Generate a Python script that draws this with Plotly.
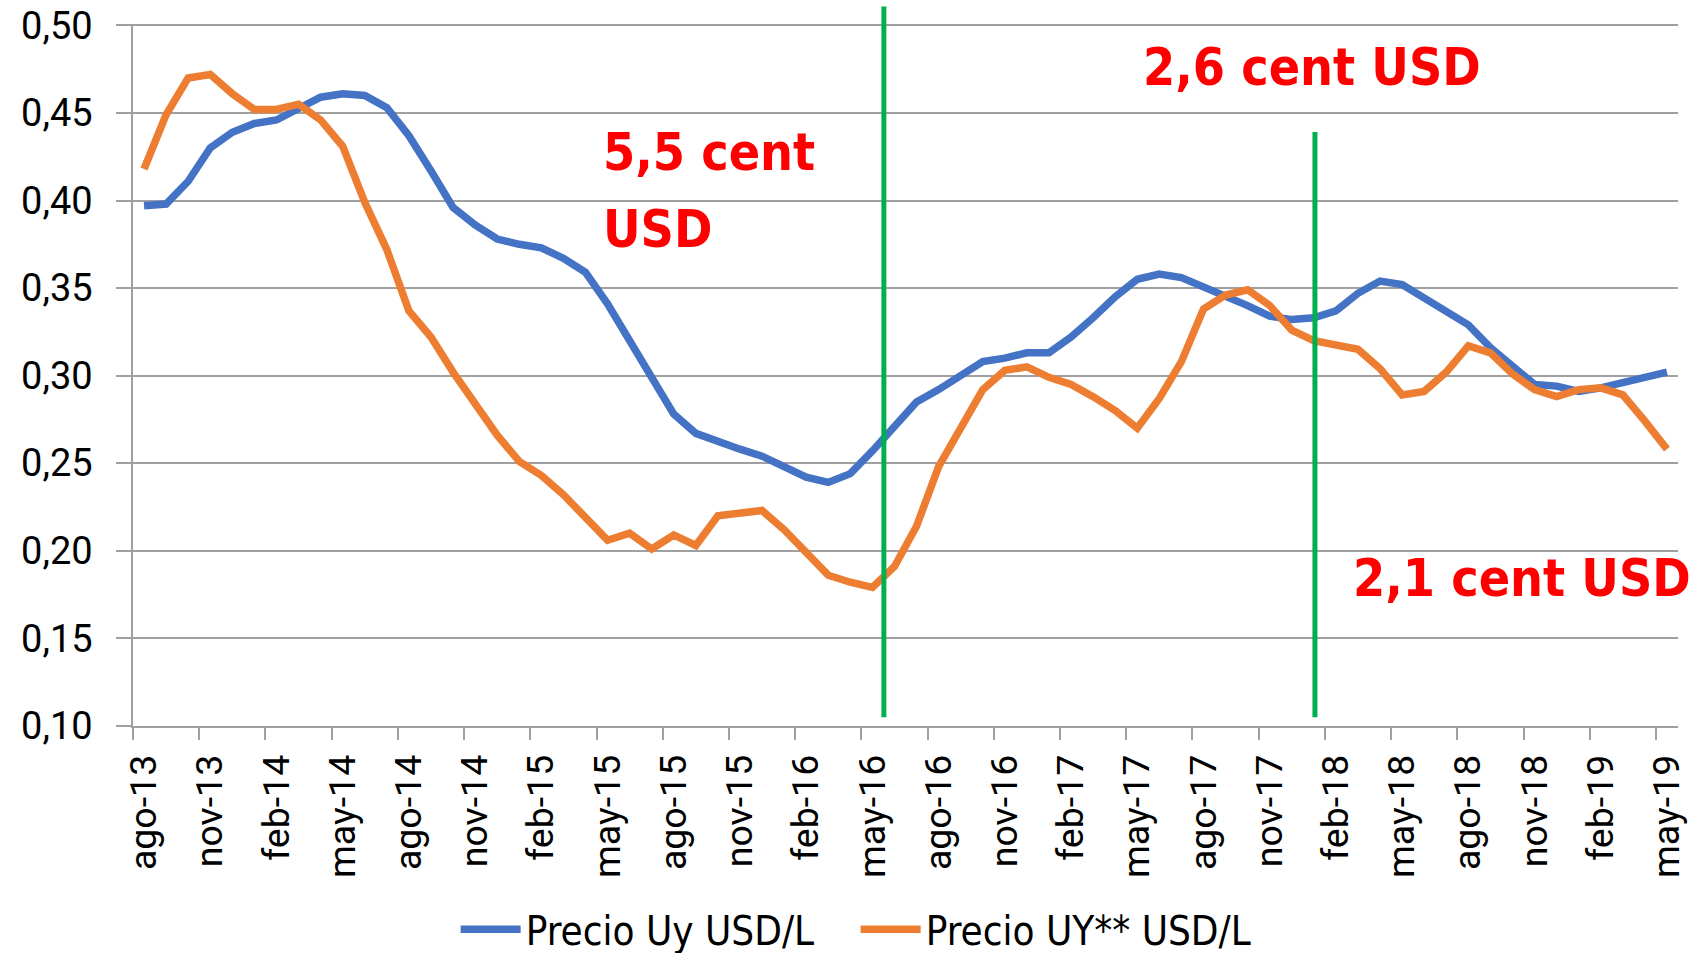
import plotly.graph_objects as go

months_es = ["ene", "feb", "mar", "abr", "may", "jun", "jul", "ago", "sep", "oct", "nov", "dic"]
categories = []
y, m = 2013, 7
for _ in range(70):
    categories.append(f"{months_es[m]}-{str(y)[2:]}")
    m += 1
    if m == 12:
        m = 0
        y += 1

precio_uy = [0.397, 0.398, 0.411, 0.430, 0.439, 0.444, 0.446, 0.453, 0.459, 0.461,
             0.460, 0.453, 0.437, 0.417, 0.396, 0.386, 0.378, 0.375, 0.373, 0.367,
             0.359, 0.341, 0.320, 0.299, 0.278, 0.267, 0.262, 0.258, 0.254, 0.248,
             0.242, 0.239, 0.244, 0.257, 0.271, 0.285, 0.292, 0.300, 0.308, 0.310,
             0.313, 0.313, 0.322, 0.333, 0.345, 0.355, 0.358, 0.356, 0.351, 0.345,
             0.340, 0.334, 0.332, 0.333, 0.337, 0.347, 0.354, 0.352, 0.344, 0.336,
             0.329, 0.316, 0.305, 0.295, 0.294, 0.291, 0.293, 0.296, 0.300, 0.302]

precio_uy2 = [0.418, 0.449, 0.470, 0.472, 0.461, 0.452, 0.452, 0.455, 0.446, 0.431,
              0.399, 0.372, 0.337, 0.322, 0.302, 0.284, 0.266, 0.251, 0.243, 0.232,
              0.219, 0.206, 0.210, 0.201, 0.209, 0.203, 0.220, 0.222, 0.223, 0.212,
              0.199, 0.186, 0.182, 0.179, 0.191, 0.214, 0.248, 0.271, 0.292, 0.303,
              0.305, 0.299, 0.295, 0.288, 0.280, 0.270, 0.287, 0.308, 0.338, 0.346,
              0.349, 0.340, 0.326, 0.320, 0.318, 0.315, 0.304, 0.289, 0.291, 0.302,
              0.317, 0.313, 0.301, 0.292, 0.288, 0.292, 0.293, 0.289, 0.274, 0.258]

series_names = ["Precio Uy USD/L", "Precio UY** USD/L"]

y_ticks = [0.10, 0.15, 0.20, 0.25, 0.30, 0.35, 0.40, 0.45, 0.50]

# vertical markers (x in category index units, y extents in paper units)
vline_x = [33.52, 53.05]
vline_y0 = [0.0125, 0.0125]
vline_y1 = [1.025, 0.846]

# annotation texts and anchors (x in category units, y in data units)
note_text = ["5,5 cent", "USD", "2,6 cent USD", "2,1 cent USD"]
note_x = [20.69, 20.69, 45.16, 54.70]
note_y = [0.4275, 0.3836, 0.4765, 0.1842]

idx = list(range(len(categories)))
tick_pos = [i - 0.5 for i in range(0, 70, 3)]
tick_txt = [categories[i] for i in range(0, 70, 3)]

BLUE = "#4472C4"
ORANGE = "#ED7D31"
GREEN = "#00B050"
GRID = "#A0A0A0"
NARROW = "Liberation Sans Narrow, DejaVu Sans Condensed, Arial Narrow, sans-serif"
YTICKFONT = dict(family="Roboto, Noto Sans, sans-serif", size=38, color="#000000")
XTICKFONT = dict(family="Roboto, Noto Sans, sans-serif", size=37.5, color="#000000")

fig = go.Figure()
fig.add_trace(go.Scatter(x=idx, y=precio_uy, mode="lines", name=series_names[0],
                         line=dict(color=BLUE, width=7.5)))
fig.add_trace(go.Scatter(x=idx, y=precio_uy2, mode="lines", name=series_names[1],
                         line=dict(color=ORANGE, width=7.5)))

for xv, y0, y1 in zip(vline_x, vline_y0, vline_y1):
    fig.add_shape(type="line", xref="x", yref="paper", x0=xv, x1=xv, y0=y0, y1=y1,
                  line=dict(color=GREEN, width=5), layer="above")

for t, xv, yv in zip(note_text, note_x, note_y):
    fig.add_annotation(x=xv, y=yv, xref="x", yref="y", text=t, showarrow=False,
                       xanchor="left", yanchor="middle", align="left",
                       font=dict(family=NARROW, size=51.5, color="#FF0000", weight="bold"))

fig.update_layout(
    width=1691, height=953,
    margin=dict(l=133, r=13, t=24, b=227),
    paper_bgcolor="white", plot_bgcolor="white",
    separators=",.",
    showlegend=True,
    legend=dict(orientation="h", xref="container", yref="container",
                x=0.506, y=0.025, xanchor="center", yanchor="middle",
                font=dict(family=NARROW, size=40, color="#000000"),
                itemwidth=60, entrywidth=325, traceorder="normal"),
    xaxis=dict(range=[-0.5, 69.5], tickmode="array", tickvals=tick_pos, ticktext=tick_txt,
               tickangle=-90, ticks="outside", ticklen=12, tickcolor=GRID, tickwidth=1.5,
               ticklabelshift=11, ticklabelstandoff=0, automargin=False,
               showgrid=False, zeroline=False, showline=True, linecolor=GRID, linewidth=1.5,
               tickfont=XTICKFONT),
    yaxis=dict(range=[0.0999, 0.5008], tickmode="array", tickvals=y_ticks,
               tickformat=".2f", ticks="outside", ticklen=15, tickcolor=GRID, tickwidth=1.5,
               showgrid=True, gridcolor=GRID, gridwidth=1.5, zeroline=False, automargin=False,
               showline=True, linecolor=GRID, linewidth=1.5, tickfont=YTICKFONT,
               ticklabelstandoff=16, ticklabeloverflow="allow"),
)

fig.write_html("out.html", config={"displayModeBar": False},
               post_script="document.body.style.margin='0';document.body.style.padding='0';")
